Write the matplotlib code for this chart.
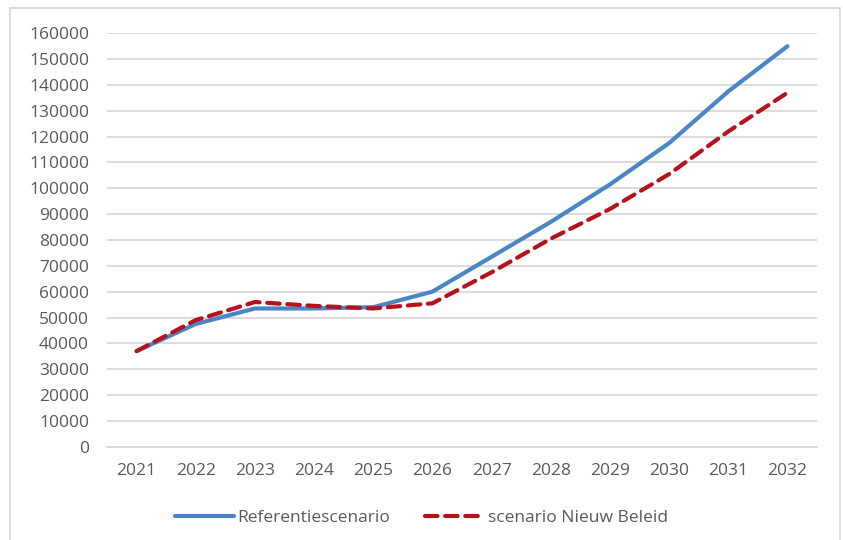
import matplotlib
matplotlib.use("Agg")
import matplotlib.pyplot as plt
from matplotlib.patches import Rectangle

# values
years = [2021, 2022, 2023, 2024, 2025, 2026, 2027, 2028, 2029, 2030, 2031, 2032]
referentie = [37000, 47500, 53500, 53500, 54000, 60000, 73500, 87000, 101500, 117500, 137500, 155000]
nieuw_beleid = [37000, 49000, 56000, 54500, 53500, 55500, 67500, 80500, 92000, 105500, 122000, 137000]
y_ticks = list(range(0, 160001, 10000))

plt.rcParams['font.family'] = ['Open Sans', 'DejaVu Sans']
plt.rcParams['lines.scale_dashes'] = False
text_col = '#595959'
grid_col = '#d9d9d9'

fig = plt.figure(figsize=(8.43, 5.40), dpi=100)
ax = fig.add_axes([107 / 843, 1 - 446.7 / 540, 710 / 843, 413.4 / 540])

ax.plot(years, referentie, color='#4a86c6', lw=3.0, solid_capstyle='round',
        label='Referentiescenario')
ax.plot(years, nieuw_beleid, color='#b5121b', lw=3.0, dashes=(9, 5.5),
        dash_capstyle='round', label='scenario Nieuw Beleid')

ax.set_xlim(2020.5, 2032.5)
ax.set_ylim(0, 160000)
ax.set_xticks(years)
ax.set_xticklabels([str(y) for y in years])
ax.set_yticks(y_ticks)
ax.set_yticklabels([str(v) for v in y_ticks])
ax.tick_params(axis='both', length=0, labelsize=12.5, labelcolor=text_col)
ax.tick_params(axis='y', pad=13)
ax.tick_params(axis='x', pad=12)
ax.grid(axis='y', color=grid_col, lw=1.3)
ax.set_axisbelow(True)
for side in ['left', 'right', 'top']:
    ax.spines[side].set_visible(False)
ax.spines['bottom'].set_color(grid_col)
ax.spines['bottom'].set_linewidth(1.3)

fig.legend(loc='center', bbox_to_anchor=(0.5, 1 - 518 / 540), ncol=2,
           frameon=False, fontsize=12.5, labelcolor=text_col,
           handlelength=3.4, handletextpad=0.2, columnspacing=2.0)

# light outer chart border
fig.patches.append(Rectangle((10 / 843, -0.02), 830 / 843, 1 - 8 / 540 + 0.02,
                             transform=fig.transFigure, fill=False,
                             edgecolor=grid_col, lw=1.3))

fig.savefig('out.png', dpi=100, facecolor='white')
